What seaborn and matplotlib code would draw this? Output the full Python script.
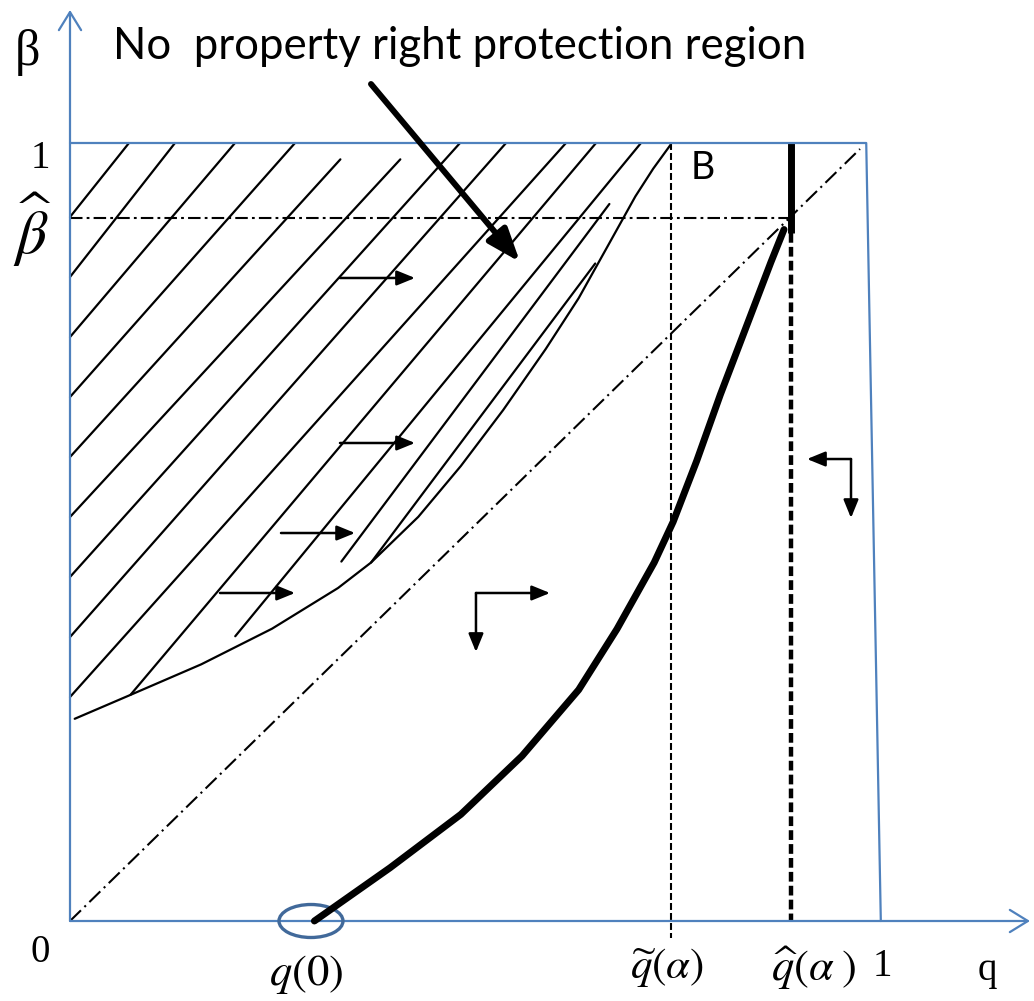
import numpy as np
import pandas as pd
import matplotlib
matplotlib.use("Agg")
import matplotlib.pyplot as plt
import seaborn as sns
from matplotlib.patches import Ellipse

sns.set_theme(style="white")
plt.rcParams["mathtext.fontset"] = "stix"
plt.rcParams["lines.scale_dashes"] = False
plt.rcParams["font.family"] = ["DejaVu Sans"]

AXIS_BLUE = "#4F81BD"
RING_BLUE = "#41699A"

# key abscissae / ordinates of the diagram (q on x, beta on y)
q_zero = 0.2975
q_tilde = 0.742
q_hat = 0.890
beta_hat = 0.9036
q_top_right = 0.983
q_bottom_right = 1.001

# thick equilibrium path, from q(0) up to the kink below q-hat
path_q = [0.3017, 0.3951, 0.4825, 0.5581, 0.6280, 0.6753, 0.7212, 0.7446, 0.7737, 0.8028, 0.8340, 0.8654, 0.8815]
path_b = [0.0000, 0.0684, 0.1370, 0.2122, 0.2972, 0.3753, 0.4607, 0.5130, 0.5914, 0.6763, 0.7614, 0.8470, 0.8888]

# lower boundary of the no-protection region
bound_q = [0.0058, 0.0746, 0.1620, 0.2494, 0.3309, 0.3716, 0.4300, 0.4825, 0.5348, 0.5873, 0.6280, 0.6630, 0.6980, 0.7200, 0.7417]
bound_b = [0.2599, 0.2906, 0.3299, 0.3757, 0.4280, 0.4607, 0.5195, 0.5848, 0.6568, 0.7352, 0.8006, 0.8659, 0.9314, 0.9670, 0.9981]

# hatch strokes filling the region: start (lower-left) and end (upper-right)
hatch_q0 = [0.0, 0.0, 0.0, 0.0, 0.0, 0.0, 0.0, 0.0, 0.0, 0.0746, 0.2040, 0.3350, 0.3716]
hatch_b0 = [0.9049, 0.8278, 0.7506, 0.6735, 0.5964, 0.5193, 0.4422, 0.3650, 0.2879, 0.2906, 0.3660, 0.4620, 0.4607]
hatch_q1 = [0.0728, 0.1296, 0.2037, 0.2778, 0.3338, 0.4078, 0.4815, 0.5383, 0.6123, 0.6494, 0.7049, 0.6659, 0.6484]
hatch_b1 = [1.0, 1.0, 1.0, 1.0, 0.9790, 0.9790, 1.0, 1.0, 1.0, 1.0, 1.0, 0.9216, 0.8451]

# small direction arrows (tail -> head)
right_arrow_q0 = [0.3333, 0.3333, 0.2605, 0.1852]
right_arrow_q1 = [0.4259, 0.4259, 0.3519, 0.2778]
right_arrow_b = [0.8265, 0.6144, 0.4987, 0.4216]

fig = plt.figure(figsize=(10.34, 10.01), dpi=100)
ax = fig.add_axes([0, 0, 1, 1])
ax.set_xlim(-70 / 810, 964 / 810)
ax.set_ylim(-80 / 778, 921 / 778)
ax.set_axis_off()

# hatch strokes
hatch_df = pd.DataFrame({
    "q": np.ravel(np.column_stack([hatch_q0, hatch_q1])),
    "b": np.ravel(np.column_stack([hatch_b0, hatch_b1])),
    "stroke": np.repeat(np.arange(len(hatch_q0)), 2),
})
sns.lineplot(data=hatch_df, x="q", y="b", units="stroke", estimator=None, sort=False,
             color="black", lw=1.6, ax=ax, legend=False, zorder=2)

# region boundary
sns.lineplot(x=bound_q, y=bound_b, sort=False, estimator=None, color="black", lw=1.6, ax=ax, zorder=2)
ax.lines[-1].set_solid_joinstyle("round")

# 45-degree reference line
ax.plot([0, 0.9753], [0, 0.9923], color="black", lw=1.5, zorder=2,
        linestyle=(0, (11, 3.5, 1.5, 3.5)))
# beta-hat level
ax.plot([0, 0.8864], [beta_hat, beta_hat], color="black", lw=1.5, zorder=3,
        linestyle=(0, (9, 3, 2, 3)))
# q-tilde guide
ax.plot([q_tilde, q_tilde], [1.0, -0.022], color="black", lw=1.5, zorder=3,
        linestyle=(0, (5, 2.2)))
# q-hat guide (thick dashed) and thick segment above it
ax.plot([q_hat, q_hat], [0.884, 0.0], color="black", lw=3.2, zorder=3,
        linestyle=(0, (7, 3)))
ax.plot([q_hat, q_hat], [1.0, 0.884], color="black", lw=5, zorder=4, solid_capstyle="butt")

# thick equilibrium path
sns.lineplot(x=path_q, y=path_b, sort=False, estimator=None, color="black", lw=5, ax=ax, zorder=5)
ax.lines[-1].set_solid_joinstyle("round")

# outer frame: top edge and right edge
ax.plot([0, q_top_right, q_bottom_right], [1.0, 1.0, 0.0], color=AXIS_BLUE, lw=1.6, zorder=4)

# coordinate axes with open arrow heads
axis_arrow = dict(arrowstyle="->,head_length=1.3,head_width=0.8", color=AXIS_BLUE, lw=1.6,
                  shrinkA=0, shrinkB=0, mutation_scale=10)
ax.annotate("", xy=(1.1852, 0), xytext=(0, 0), arrowprops=axis_arrow, zorder=4)
ax.annotate("", xy=(0, 1.171), xytext=(0, 0), arrowprops=axis_arrow, zorder=4)

# ring around q(0)
ax.add_patch(Ellipse((q_zero, 0.0), 0.079, 0.0424, fill=False, edgecolor=RING_BLUE, lw=2.4, zorder=4))

# small arrows
small = dict(arrowstyle="-|>,head_length=1.1,head_width=0.45", color="black", lw=1.8,
             shrinkA=0, shrinkB=0, mutation_scale=10)
for q0, q1, b in zip(right_arrow_q0, right_arrow_q1, right_arrow_b):
    ax.annotate("", xy=(q1, b), xytext=(q0, b), arrowprops=small, zorder=6)

# corner arrows
ax.annotate("", xy=(0.5926, 0.4216), xytext=(0.5012, 0.4216), arrowprops=small, zorder=6)
ax.annotate("", xy=(0.5012, 0.3458), xytext=(0.5012, 0.4216), arrowprops=small, zorder=6)
ax.annotate("", xy=(0.9099, 0.5938), xytext=(0.9642, 0.5938), arrowprops=small, zorder=6)
ax.annotate("", xy=(0.9642, 0.5180), xytext=(0.9642, 0.5938), arrowprops=small, zorder=6)

# pointer from the title to the region
big = dict(arrowstyle="-|>,head_length=2.0,head_width=0.75", color="black", lw=4.3,
           shrinkA=0, shrinkB=0, mutation_scale=10)
ax.annotate("", xy=(0.5556, 0.847), xytext=(0.3716, 1.0758), arrowprops=big, zorder=7)

# texts
ax.text(0.4815, 1.1234, "No  property right protection region", fontsize=31.5, family="Lato",
        ha="center", va="center", color="black")
ax.text(0.7815, 0.9679, "B", fontsize=27, family="Lato", ha="center", va="center", color="black")

serif = dict(family="Liberation Serif", color="black", ha="center", va="center")
ax.text(-0.0519, 1.1160, "β", fontsize=36, **serif)
ax.text(-0.037, 0.9807, "1", fontsize=28, **serif)
ax.text(-0.037, -0.041, "0", fontsize=28, **serif)
ax.text(1.0025, -0.0591, "1", fontsize=28, **serif)
ax.text(1.132, -0.063, "q", fontsize=28, **serif)

ax.text(-0.0457, 0.888, r"$\widehat{\beta}$", fontsize=44, ha="center", va="center", color="black")
ax.text(0.2914, -0.0694, r"$q(0)$", fontsize=32, ha="center", va="center", color="black")
ax.text(0.737, -0.0604, r"$\widetilde{q}(\alpha)$", fontsize=31, ha="center", va="center", color="black")
ax.text(0.9185, -0.0604, r"$\widehat{q}(\alpha\;)$", fontsize=32, ha="center", va="center", color="black")

fig.savefig("out.png", dpi=100)
